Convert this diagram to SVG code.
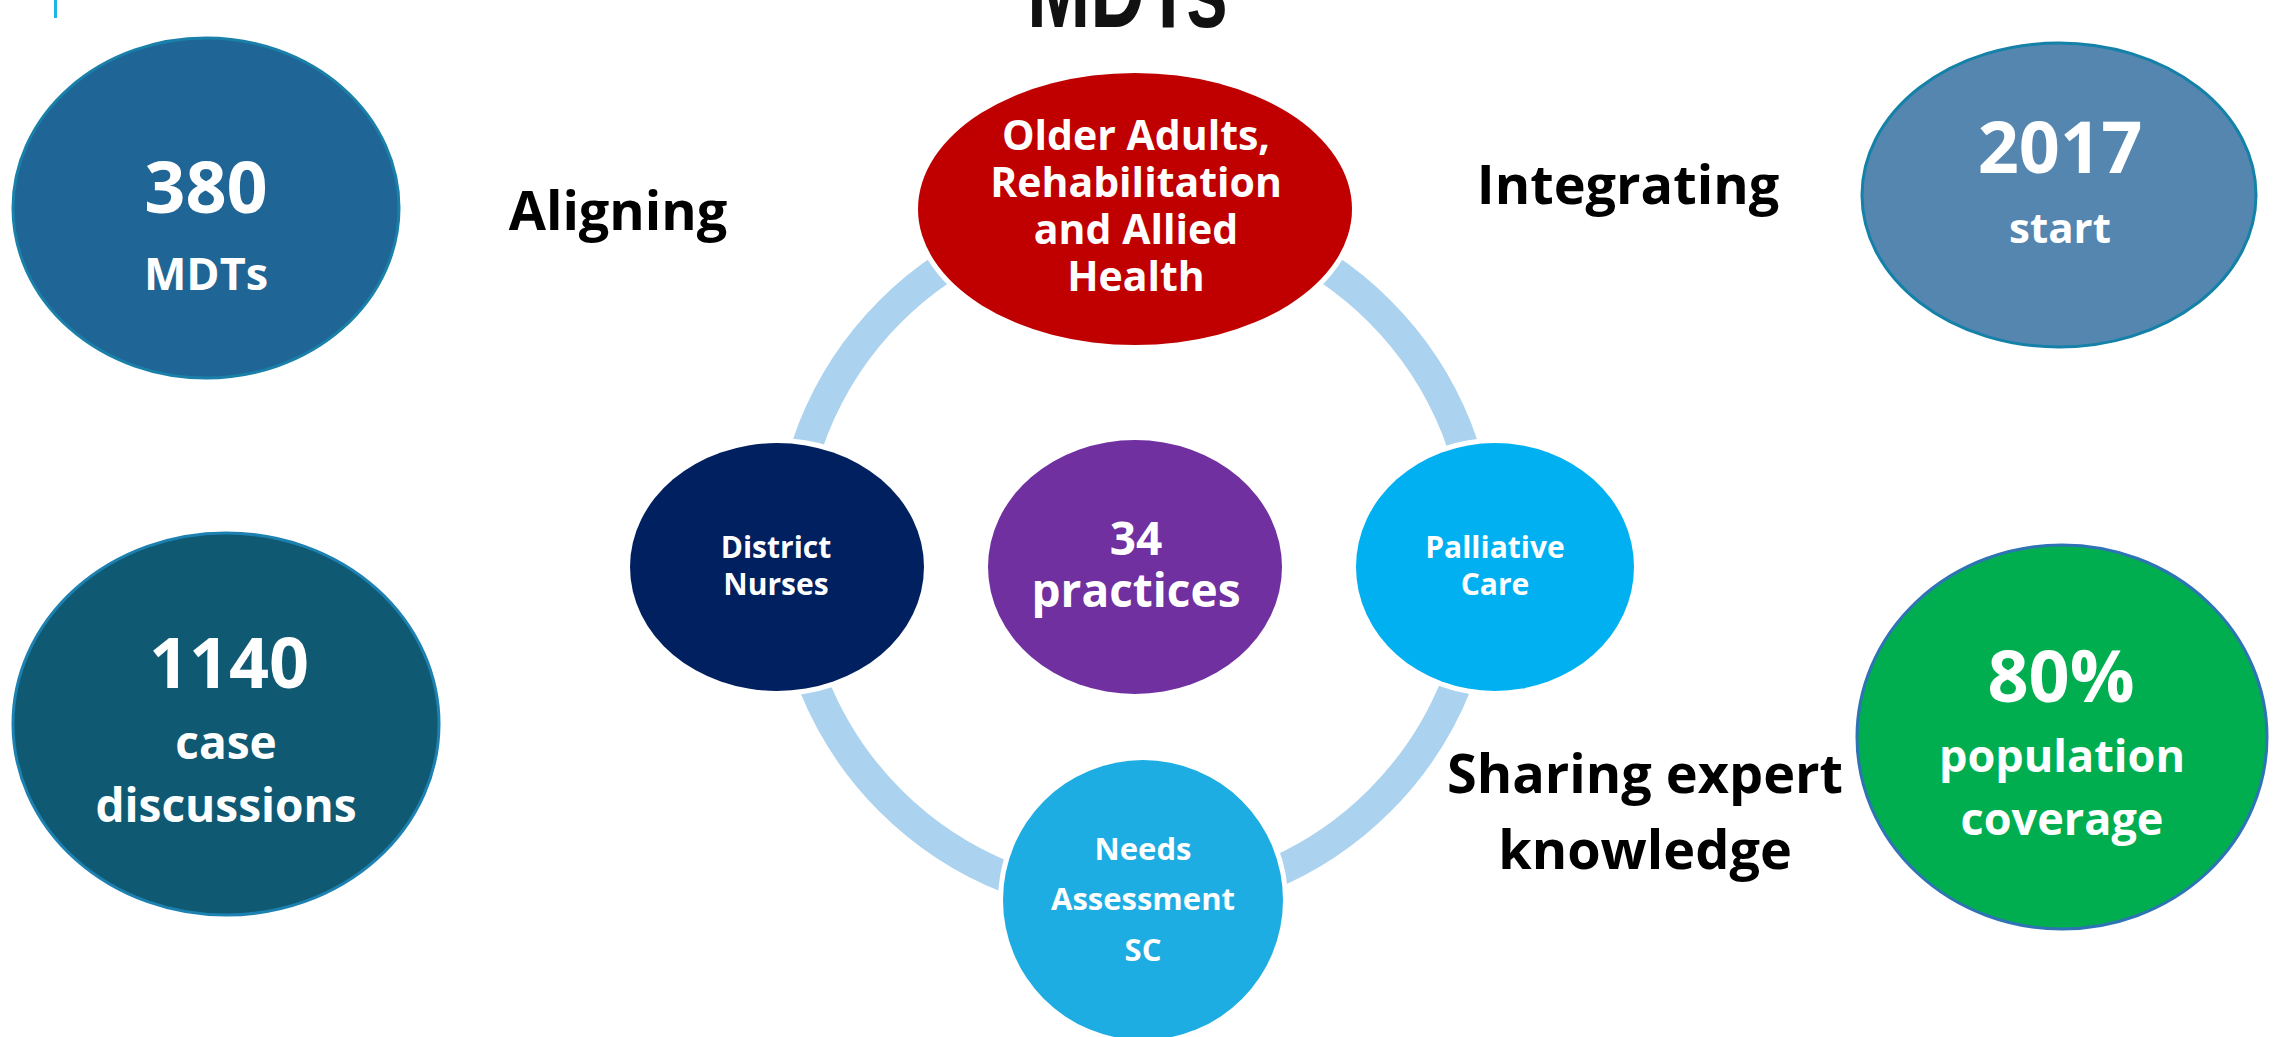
<svg xmlns="http://www.w3.org/2000/svg" width="2277" height="1037" viewBox="0 0 2277 1037">
<style>
.lbl{font-family:"Open Sans","Liberation Sans",sans-serif;font-weight:700;fill:#ffffff;text-anchor:middle}
.cap{font-family:"Open Sans","Liberation Sans",sans-serif;font-weight:700;fill:#000000;text-anchor:middle;font-size:54px}
.cyc{stroke:#ffffff;stroke-width:10;paint-order:stroke}
</style>
<rect width="2277" height="1037" fill="#ffffff"/>
<rect x="54" y="0" width="3" height="18" fill="#1CB5E8"/>
<text x="1027" y="27" font-family="'Liberation Sans',sans-serif" font-weight="700" font-size="112" fill="#111111" textLength="201" lengthAdjust="spacingAndGlyphs">MDTs</text>

<g id="connectors">
<circle cx="1135" cy="556" r="346" fill="none" stroke="#ABD2EE" stroke-width="31"/>
</g>

<g id="n380">
<ellipse cx="206" cy="208" rx="193" ry="170" fill="#1F6595" stroke="#1A80AA" stroke-width="3"/>
<text class="lbl" x="206" y="213" font-size="72">380</text>
<text class="lbl" x="206" y="290" font-size="45">MDTs</text>
</g>
<g id="n1140">
<ellipse cx="226" cy="724" rx="213" ry="191" fill="#0F5972" stroke="#1C80B0" stroke-width="3"/>
<text class="lbl" x="229" y="688" font-size="70">1140</text>
<text class="lbl" x="226" y="759" font-size="46">case</text>
<text class="lbl" x="226" y="822" font-size="46">discussions</text>
</g>
<g id="n2017">
<ellipse cx="2059" cy="195" rx="197" ry="152" fill="#5586B0" stroke="#1481A8" stroke-width="3"/>
<text class="lbl" x="2060" y="173" font-size="72">2017</text>
<text class="lbl" x="2060" y="243" font-size="42">start</text>
</g>
<g id="n80">
<ellipse cx="2062" cy="737" rx="205" ry="192" fill="#00AE50" stroke="#2E74B5" stroke-width="3"/>
<text class="lbl" x="2061" y="702" font-size="72">80%</text>
<text class="lbl" x="2062" y="772" font-size="45">population</text>
<text class="lbl" x="2062" y="835" font-size="45">coverage</text>
</g>

<g id="nOlder">
<ellipse class="cyc" cx="1135" cy="209" rx="217" ry="136" fill="#C00000"/>
<text class="lbl" x="1136" y="150" font-size="41">Older Adults,</text>
<text class="lbl" x="1136" y="197" font-size="41">Rehabilitation</text>
<text class="lbl" x="1136" y="244" font-size="41">and Allied</text>
<text class="lbl" x="1136" y="291" font-size="41">Health</text>
</g>
<g id="nDistrict">
<ellipse class="cyc" cx="777" cy="567" rx="147" ry="124" fill="#002060"/>
<text class="lbl" x="776" y="558" font-size="30">District</text>
<text class="lbl" x="776" y="595" font-size="30">Nurses</text>
</g>
<g id="nPractices">
<ellipse cx="1135" cy="567" rx="147" ry="127" fill="#7030A0"/>
<text class="lbl" x="1136" y="555" font-size="46">34</text>
<text class="lbl" x="1136" y="607" font-size="46">practices</text>
</g>
<g id="nPalliative">
<ellipse class="cyc" cx="1495" cy="567" rx="139" ry="124" fill="#00B0F0"/>
<text class="lbl" x="1495" y="558" font-size="30">Palliative</text>
<text class="lbl" x="1495" y="595" font-size="30">Care</text>
</g>
<g id="nNeeds">
<ellipse class="cyc" cx="1143" cy="900" rx="140" ry="140" fill="#1EADE3"/>
<text class="lbl" x="1143" y="860" font-size="31">Needs</text>
<text class="lbl" x="1143" y="910" font-size="31">Assessment</text>
<text class="lbl" x="1143" y="961" font-size="31">SC</text>
</g>

<g id="labels">
<text class="cap" x="618" y="230">Aligning</text>
<text class="cap" x="1628" y="204">Integrating</text>
<text class="cap" x="1645" y="793">Sharing expert</text>
<text class="cap" x="1645" y="869">knowledge</text>
</g>
</svg>
